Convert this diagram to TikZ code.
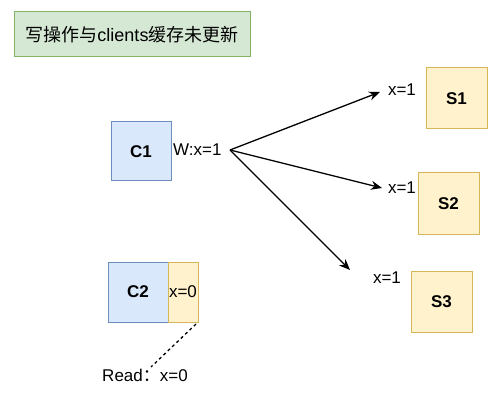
\documentclass[tikz,border=0pt]{standalone}
\usepackage{fontspec}
\setmainfont{Liberation Sans}
\newfontfamily\cjk{Noto Sans CJK SC}
\usetikzlibrary{arrows.meta}
\tikzset{
  every node/.style={font=\fontsize{17}{20}\selectfont, inner sep=0pt},
  clientbox/.style={draw=blue!45!gray, fill={rgb,255:red,218;green,232;blue,252}, line width=1pt, minimum width=60pt, minimum height=60pt, font=\fontsize{17}{20}\selectfont\bfseries},
  serverbox/.style={draw={rgb,255:red,214;green,182;blue,86}, fill={rgb,255:red,255;green,242;blue,204}, line width=1pt, minimum width=61pt, minimum height=61pt, font=\fontsize{17}{20}\selectfont\bfseries},
  titlebox/.style={draw={rgb,255:red,130;green,179;blue,102}, fill={rgb,255:red,213;green,232;blue,212}, line width=1pt, minimum width=236pt, minimum height=45pt, font=\fontsize{18}{21}\selectfont},
  writearrow/.style={-{Stealth[length=11pt,width=9pt]}, line width=1.3pt},
}
\definecolor{cborder}{RGB}{108,142,191}
\begin{document}
\begin{tikzpicture}[x=1pt,y=-1pt]
\useasboundingbox (0,0) rectangle (501,401);
\node[titlebox] (title) at (132,34.5) {{\cjk 写操作与}clients{\cjk 缓存未更新}};
\node[clientbox, draw=cborder, minimum height=59pt] (c1) at (141,151.5) {C1};
\node[anchor=west] (w) at (173,150) {W:x=1};
\coordinate (o) at (230,150);
\node[serverbox] (s1) at (456.5,98.5) {S1};
\node[serverbox] (s2) at (448.5,203.5) {S2};
\node[serverbox] (s3) at (441.5,301.5) {S3};
\node (l1) at (402,90) {x=1};
\node (l2) at (402,188) {x=1};
\node (l3) at (387,278) {x=1};
\coordinate (t1) at (380,92);
\coordinate (t2) at (382,188);
\coordinate (t3) at (350,270);
\draw[writearrow] (o) -- (t1);
\draw[writearrow] (o) -- (t2);
\draw[writearrow] (o) -- (t3);
\node[clientbox, draw=cborder] (c2) at (138,292) {C2};
\node[serverbox, minimum width=30pt, minimum height=60pt, font=\fontsize{17}{20}\selectfont] (x0) at (183,292) {x=0};
\node (read) at (145,375) {Read{\cjk ：}x=0};
\coordinate (d1) at (196,324);
\coordinate (d2) at (151,367);
\draw[dash pattern=on 3pt off 3pt, line width=1.3pt] (d1) -- (d2);
\end{tikzpicture}
\end{document}
